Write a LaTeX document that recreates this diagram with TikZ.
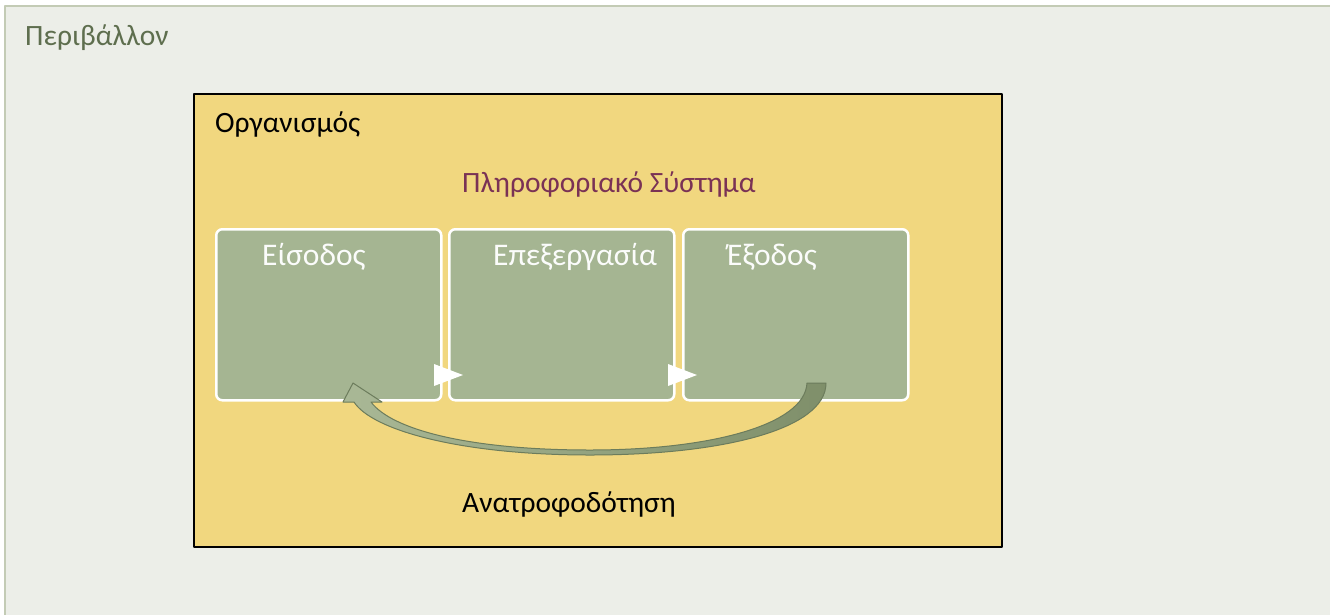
\documentclass[tikz,border=0pt]{standalone}
\usepackage{fontspec}
\setmainfont{Carlito}
\usetikzlibrary{positioning}
\definecolor{envback}{HTML}{ECEEE8}
\definecolor{envline}{HTML}{C3CBB5}
\definecolor{envtext}{HTML}{5E6E4E}
\definecolor{orgfill}{HTML}{F1D77F}
\definecolor{boxfill}{HTML}{A5B592}
\definecolor{systext}{HTML}{7A3255}
\definecolor{arrdark}{HTML}{7F8F6A}
\definecolor{arrlight}{HTML}{A9B896}
\definecolor{arrline}{HTML}{6C7C5C}
\tikzset{
  txt/.style={inner sep=0pt, anchor=base west, font=\fontsize{29.5}{34}\selectfont},
  gbox/.style={draw=white, line width=2.5pt, fill=boxfill, rounded corners=6pt,
    anchor=north west, minimum width=225pt, minimum height=171pt, inner sep=0pt},
  boxtxt/.style={txt, text=white!96!boxfill, font=\fontsize{31.5}{36}\selectfont},
}
\begin{document}
\begin{tikzpicture}[x=1pt, y=-1pt, line join=round]
\useasboundingbox (0,0) rectangle (1330,614);
\fill[white] (0,0) rectangle (1330,614);
\clip (0,0) rectangle (1330,614);
% environment
\draw[envline, fill=envback, line width=2pt] (5,6) rectangle (1340,630);
\node[txt, text=envtext] (env) at (25,45) {Περιβάλλον};
% organisation
\draw[black, fill=orgfill, line width=1.5pt] (194,94) rectangle (1002,547);
\node[txt] (org) at (215,132) {Οργανισμός};
\node[txt, text=systext] (sys) at (462,192) {Πληροφοριακό Σύστημα};
% the three boxes
\node[gbox] (in) at (215,228) {};
\node[gbox] (proc) at (448,228) {};
\node[gbox] (out) at (682,228) {};
\node[boxtxt] (intxt) at (262,265) {Είσοδος};
\node[boxtxt] (proctxt) at (493,265) {Επεξεργασία};
\node[boxtxt] (outtxt) at (727,265) {Έξοδος};
\fill[white] (434,364) -- (463,375) -- (434,386) -- cycle;
\fill[white] (668,364) -- (697,375) -- (668,386) -- cycle;
% feedback
\draw[arrline, line width=1pt, left color=arrlight, right color=arrdark]
  (807,383) -- (826,383)
  .. controls (826,430) and (720,455) .. (590,455)
  .. controls (460,455) and (372,430) .. (354,402)
  -- (343,402) -- (353,383) -- (382,402) -- (371,402)
  .. controls (392,430) and (470,450) .. (590,450)
  .. controls (710,450) and (805,425) .. cycle;
\node[txt] (fb) at (462,512) {Ανατροφοδότηση};
\end{tikzpicture}
\end{document}
